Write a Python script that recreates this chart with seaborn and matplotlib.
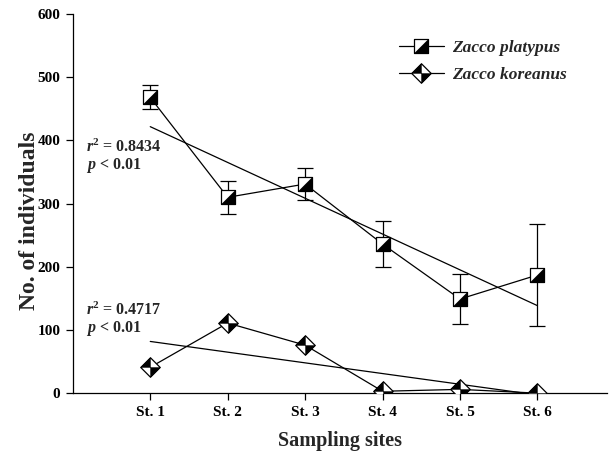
import numpy as np
import pandas as pd
import matplotlib
matplotlib.use("Agg")
import matplotlib.pyplot as plt
from matplotlib.path import Path
from matplotlib.lines import Line2D
from matplotlib.legend_handler import HandlerTuple
import seaborn as sns

# ---- data ----
sites = ["St. 1", "St. 2", "St. 3", "St. 4", "St. 5", "St. 6"]
site_pos = [1, 2, 3, 4, 5, 6]
platypus = [468, 310, 331, 236, 149, 187]
platypus_err = [19, 26, 26, 37, 40, 80]
koreanus = [41, 111, 76, 3, 6, 0]
yticks = [0, 100, 200, 300, 400, 500, 600]
stats_platypus = ("0.8434", "0.01")
stats_koreanus = ("0.4717", "0.01")

sns.set_style("ticks")
plt.rcParams["font.family"] = ["Liberation Serif", "DejaVu Serif"]
plt.rcParams["font.weight"] = "bold"
plt.rcParams["mathtext.fontset"] = "custom"
plt.rcParams["mathtext.it"] = "Liberation Serif:italic:bold"
plt.rcParams["mathtext.rm"] = "Liberation Serif:bold"
plt.rcParams["mathtext.bf"] = "Liberation Serif:bold"

df = pd.DataFrame({"x": site_pos, "platypus": platypus, "koreanus": koreanus})

fig = plt.figure(figsize=(6.12, 4.54), dpi=100)
ax = fig.add_axes([0.119, 0.134, 0.873, 0.835])

# custom markers
sq_outline = Path([(-1, -1), (1, -1), (1, 1), (-1, 1), (-1, -1)],
                  [Path.MOVETO, Path.LINETO, Path.LINETO, Path.LINETO, Path.CLOSEPOLY])
sq_half = Path([(-1, -1), (1, -1), (1, 1), (-1, -1)],
               [Path.MOVETO, Path.LINETO, Path.LINETO, Path.CLOSEPOLY])
dia_outline = Path([(0, 1), (1, 0), (0, -1), (-1, 0), (0, 1)],
                   [Path.MOVETO, Path.LINETO, Path.LINETO, Path.LINETO, Path.CLOSEPOLY])
dia_quads = Path([(0, 0), (-1, 0), (0, 1), (0, 0), (0, 0), (1, 0), (0, -1), (0, 0)],
                 [Path.MOVETO, Path.LINETO, Path.LINETO, Path.CLOSEPOLY,
                  Path.MOVETO, Path.LINETO, Path.LINETO, Path.CLOSEPOLY])

lw = 0.9
SQ_MS = 10
DIA_MS = 14
# regression lines
sns.regplot(data=df, x="x", y="platypus", ax=ax, scatter=False, ci=None,
            line_kws=dict(color="black", lw=lw))
sns.regplot(data=df, x="x", y="koreanus", ax=ax, scatter=False, ci=None,
            line_kws=dict(color="black", lw=lw))

# error bars
ax.errorbar(site_pos, platypus, yerr=platypus_err, fmt="none", ecolor="black",
            elinewidth=lw, capsize=6, capthick=lw, zorder=3)

# data lines
sns.lineplot(data=df, x="x", y="platypus", ax=ax, color="black", lw=lw,
             marker=sq_outline, markersize=SQ_MS, markerfacecolor="white",
             markeredgecolor="black", markeredgewidth=0.9, zorder=4)
ax.plot(site_pos, platypus, ls="none", marker=sq_half, markersize=SQ_MS,
        markerfacecolor="black", markeredgecolor="black", markeredgewidth=0.5, zorder=5)
sns.lineplot(data=df, x="x", y="koreanus", ax=ax, color="black", lw=lw,
             marker=dia_outline, markersize=DIA_MS, markerfacecolor="white",
             markeredgecolor="black", markeredgewidth=0.9, zorder=4)
ax.plot(site_pos, koreanus, ls="none", marker=dia_quads, markersize=DIA_MS,
        markerfacecolor="black", markeredgecolor="black", markeredgewidth=0.3, zorder=5)

# annotations
ann_kw = dict(fontsize=11.5, fontweight="bold", va="center", ha="left")
ax.text(0.17, 389, r"$r^2$ = " + stats_platypus[0], **ann_kw)
ax.text(0.17, 361, r"$p$ < " + stats_platypus[1], **ann_kw)
ax.text(0.17, 131, r"$r^2$ = " + stats_koreanus[0], **ann_kw)
ax.text(0.17, 103, r"$p$ < " + stats_koreanus[1], **ann_kw)

# axes
ax.set_xlim(0, 6.9)
ax.set_ylim(0, 600)
ax.set_xticks(site_pos)
ax.set_xticklabels(sites, fontsize=11, fontweight="bold")
ax.set_yticks(yticks)
ax.set_yticklabels([str(v) for v in yticks], fontsize=11, fontweight="bold")
ax.set_xlabel("Sampling sites", fontsize=14.5, fontweight="bold", labelpad=9)
ax.set_ylabel("No. of individuals", fontsize=17, fontweight="bold")
ax.yaxis.set_label_coords(-0.062, 0.454)
ax.tick_params(axis="both", direction="out", length=5, width=0.9, colors="black", pad=4)
for s in ["top", "right"]:
    ax.spines[s].set_visible(False)
for s in ["left", "bottom"]:
    ax.spines[s].set_linewidth(0.9)
    ax.spines[s].set_color("black")

# legend
h1 = (Line2D([], [], color="black", lw=lw, marker=sq_outline, markersize=SQ_MS,
             markerfacecolor="white", markeredgecolor="black", markeredgewidth=0.9),
      Line2D([], [], ls="none", marker=sq_half, markersize=SQ_MS,
             markerfacecolor="black", markeredgecolor="black", markeredgewidth=0.5))
h2 = (Line2D([], [], color="black", lw=lw, marker=dia_outline, markersize=DIA_MS,
             markerfacecolor="white", markeredgecolor="black", markeredgewidth=0.9),
      Line2D([], [], ls="none", marker=dia_quads, markersize=DIA_MS,
             markerfacecolor="black", markeredgecolor="black", markeredgewidth=0.3))
leg = ax.legend([h1, h2], ["Zacco platypus", "Zacco koreanus"],
                handler_map={tuple: HandlerTuple(ndivide=1, pad=0)},
                loc="upper left", bbox_to_anchor=(0.581, 0.972), frameon=False,
                handlelength=2.6, handletextpad=0.45, labelspacing=0.6,
                prop=dict(family="Liberation Serif", weight="bold", style="italic", size=12.5))

fig.savefig("out.png", dpi=100)
